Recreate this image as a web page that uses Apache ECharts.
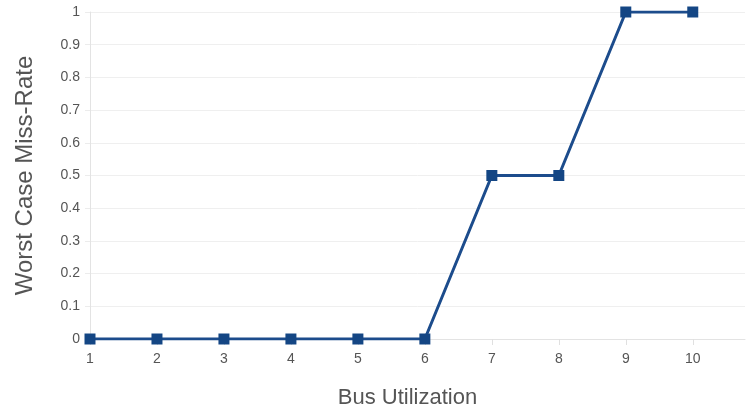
<!DOCTYPE html>
<html><head><meta charset="utf-8">
<script src="https://cdn.jsdelivr.net/npm/echarts@6/dist/echarts.min.js"></script>
<style>html,body{margin:0;padding:0;background:#fff}#c{width:748px;height:414px}</style>
</head><body><div id="c"></div>
<script>
const busUtilization = [1,2,3,4,5,6,7,8,9,10];
const missRate = [0,0,0,0,0,0,0.5,0.5,1,1];
const chart = echarts.init(document.getElementById('c'));
chart.setOption({
  animation:false,
  grid:{left:90,right:3,top:12,bottom:70,containLabel:false},
  xAxis:{type:'value',min:1,max:10.78,interval:1,
    name:'Bus Utilization',nameLocation:'middle',nameGap:48,
    nameTextStyle:{fontFamily:'Liberation Sans, Arial',fontSize:22,color:'#555',padding:[0,20,0,0]},
    axisLine:{show:true,lineStyle:{color:'#e3e3e3',width:1}},
    axisTick:{show:true,length:6,lineStyle:{color:'#e0e0e0'}},
    axisLabel:{showMaxLabel:false,fontFamily:'Liberation Sans, Arial',fontSize:14,color:'#555',margin:13},
    splitLine:{show:false}},
  yAxis:{type:'value',min:0,max:1,interval:0.1,
    name:'Worst Case Miss-Rate',nameLocation:'middle',nameGap:53,
    nameTextStyle:{fontFamily:'Liberation Sans, Arial',fontSize:24,color:'#555'},
    axisLine:{show:true,lineStyle:{color:'#e3e3e3'}},
    axisTick:{show:true,length:5,lineStyle:{color:'#ececec'}},
    axisLabel:{fontFamily:'Liberation Sans, Arial',fontSize:14,color:'#555',margin:10},
    splitLine:{show:true,lineStyle:{color:'#efefef'}}},
  series:[{type:'line',data:busUtilization.map((x,i)=>[x,missRate[i]]),
    symbol:'rect',symbolSize:11,
    lineStyle:{color:'#1c4c8c',width:3},
    itemStyle:{color:'#144684'}}]
});
</script></body></html>
